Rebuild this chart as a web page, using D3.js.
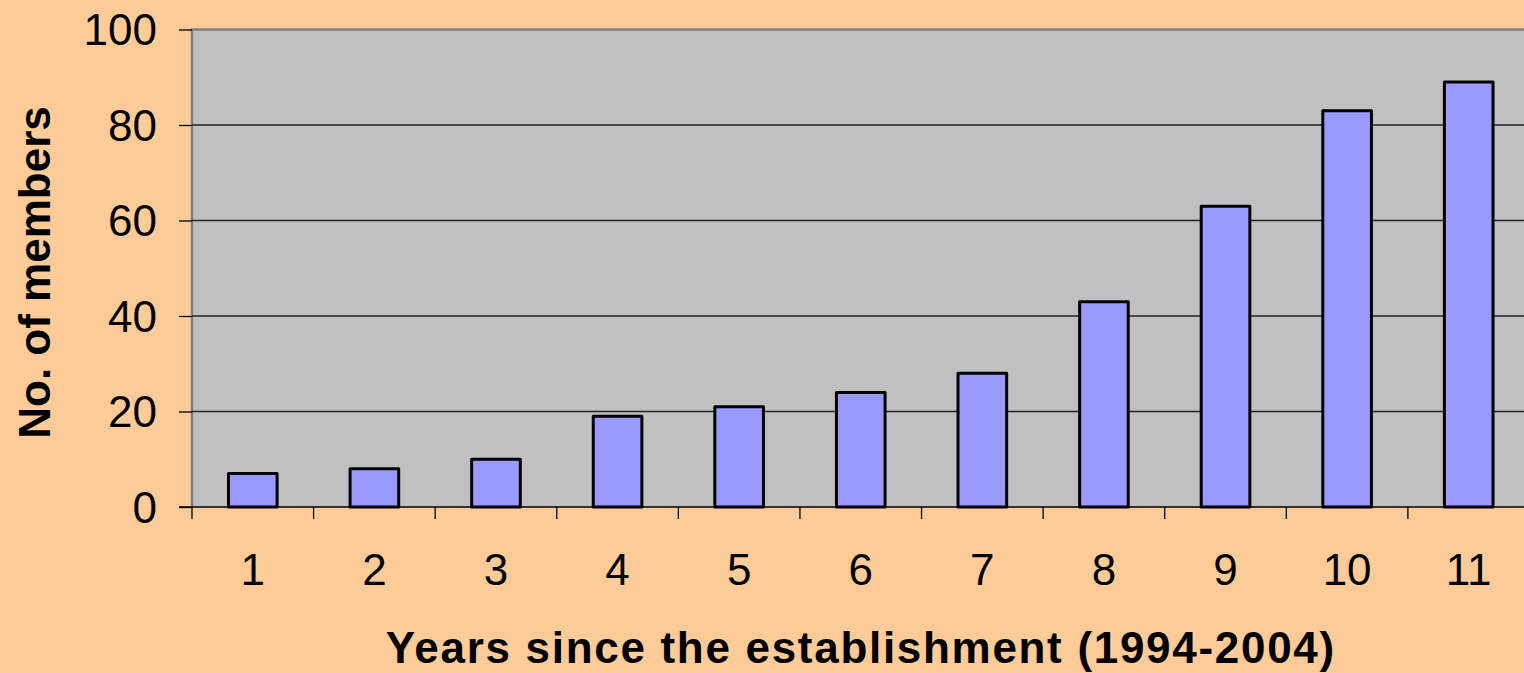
<!DOCTYPE html>
<html>
<head>
<meta charset="utf-8">
<script src="https://cdn.jsdelivr.net/npm/d3@7"></script>
<style>
  html, body { margin: 0; padding: 0; background: #FFCC99; overflow: hidden; }
  svg { display: block; }
  text { font-family: "Liberation Sans", Arial, sans-serif; fill: #000; }
</style>
</head>
<body>
<svg id="chart" width="1524" height="673"></svg>
<script>
const categories = ["1", "2", "3", "4", "5", "6", "7", "8", "9", "10", "11"];
const members = [7, 8, 10, 19, 21, 24, 28, 43, 63, 83, 89];
const yTicks = [0, 20, 40, 60, 80, 100];
const yTitle = "No. of members";
const xTitle = "Years since the establishment (1994-2004)";

(function () {
const W = 1524, H = 673;
const pLeft = 192, pRight = 1529.5, pTop = 29.5, pBottom = 507;

const svg = d3.select("#chart");
svg.append("rect").attr("width", W).attr("height", H).attr("fill", "#FFCC99");

const x = d3.scaleBand().domain(categories).range([pLeft, pRight]).paddingInner(0.6).paddingOuter(0.3);
const xb = d3.scaleBand().domain(categories).range([pLeft, pRight]).padding(0);
const y = d3.scaleLinear().domain([0, 100]).range([pBottom, pTop]);

// plot area
svg.append("rect")
  .attr("x", pLeft).attr("y", pTop)
  .attr("width", pRight - pLeft).attr("height", pBottom - pTop)
  .attr("fill", "#C0C0C0");
// gray border top/left
svg.append("path")
  .attr("d", `M${pLeft},${pBottom} L${pLeft},${pTop} L${pRight},${pTop}`)
  .attr("fill", "none").attr("stroke", "#808080").attr("stroke-width", 2.5);

// gridlines
svg.append("g").selectAll("line")
  .data(yTicks.filter(d => d > 0 && d < 100))
  .join("line")
  .attr("x1", pLeft).attr("x2", pRight)
  .attr("y1", d => y(d)).attr("y2", d => y(d))
  .attr("stroke", "#222").attr("stroke-width", 1.3);

// bars
svg.append("g").selectAll("rect")
  .data(members)
  .join("rect")
  .attr("x", (d, i) => x(categories[i]))
  .attr("width", x.bandwidth())
  .attr("y", d => y(d))
  .attr("height", d => y(0) - y(d))
  .attr("fill", "#9999FF")
  .attr("stroke", "#000")
  .attr("stroke-width", 3)
  .attr("stroke-linejoin", "round");

// y axis
const yAxis = d3.axisLeft(y).tickValues(yTicks).tickSize(13).tickPadding(22).tickSizeOuter(0);
const gy = svg.append("g").attr("transform", `translate(${pLeft},0)`).call(yAxis);
gy.select(".domain").remove();
gy.selectAll(".tick line").attr("stroke", "#000").attr("stroke-width", 1.3);
gy.selectAll(".tick text")
  .attr("font-family", "'Liberation Sans', Arial, sans-serif")
  .attr("font-size", 44).attr("fill", "#000").attr("dy", "0.35em");

// x axis line and boundary ticks
svg.append("line")
  .attr("x1", pLeft - 13).attr("x2", pRight)
  .attr("y1", pBottom).attr("y2", pBottom)
  .attr("stroke", "#000").attr("stroke-width", 1.3);
const boundaries = categories.map(c => xb(c)).concat([xb(categories[categories.length - 1]) + xb.bandwidth()]);
svg.append("g").selectAll("line")
  .data(boundaries)
  .join("line")
  .attr("x1", d => d).attr("x2", d => d)
  .attr("y1", pBottom).attr("y2", pBottom + 12)
  .attr("stroke", "#000").attr("stroke-width", 1.3);

// x labels
svg.append("g").selectAll("text")
  .data(categories)
  .join("text")
  .attr("x", d => xb(d) + xb.bandwidth() / 2)
  .attr("y", 585)
  .attr("text-anchor", "middle")
  .attr("font-size", 44)
  .text(d => d);

// titles
svg.append("text")
  .attr("transform", `translate(50,272.5) rotate(-90)`)
  .attr("text-anchor", "middle")
  .attr("font-size", 44).attr("font-weight", "bold")
  .text(yTitle);

svg.append("text")
  .attr("x", (pLeft + pRight) / 2).attr("y", 663)
  .attr("text-anchor", "middle")
  .attr("font-size", 44).attr("font-weight", "bold")
  .attr("letter-spacing", "1.7px")
  .text(xTitle);
})();
</script>
</body>
</html>
